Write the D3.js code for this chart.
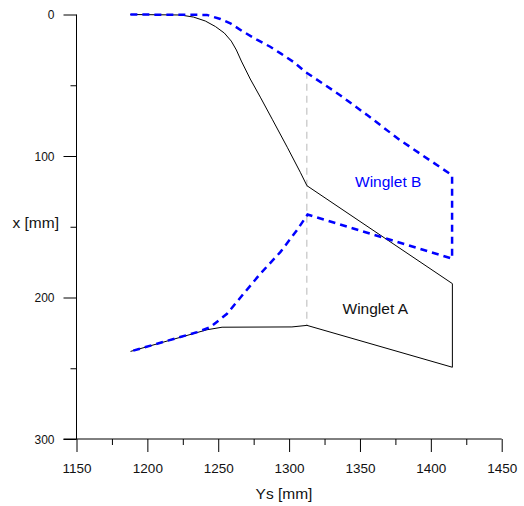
<!DOCTYPE html>
<html>
<head>
<meta charset="utf-8">
<script src="https://cdn.jsdelivr.net/npm/d3@7"></script>
<style>
  html, body { margin: 0; padding: 0; background: #fff; }
  svg { display: block; font-family: "Liberation Sans", Arial, sans-serif; }
</style>
</head>
<body>
<svg id="chart" width="524" height="506"></svg>
<script>
// Winglet outlines: spanwise position Ys [mm] and chordwise position x [mm]
const wingletAYs = [1188, 1223.3, 1232.5, 1240.9, 1248, 1254.3, 1259.2, 1262.8, 1266.3, 1272.6, 1279.7, 1288.1, 1298.7, 1307.9, 1312.6, 1415.2, 1415.2, 1312.6, 1302, 1252.7, 1242.1, 1188.1];
const wingletAX  = [0, 0.35, 1.8, 4.6, 8.5, 13.1, 18.8, 25.1, 32.9, 45.6, 58.4, 74, 93.8, 111.5, 121, 190.2, 249.3, 219.7, 220.8, 221, 222.8, 238.1];

const wingletBYs = [1188, 1242, 1251.5, 1258.5, 1267.7, 1277.6, 1286.7, 1294, 1302.9, 1311.4, 1336, 1355.1, 1378.3, 1406.5, 1415, 1415, 1313, 1305.5, 1293.8, 1279.7, 1267.9, 1256.2, 1244.4, 1235.1, 1188.1];
const wingletBX  = [0, 0.3, 3.2, 6.2, 12.2, 18, 22.8, 27.5, 33.4, 40.5, 57, 71.1, 88.8, 107.9, 113.6, 172.5, 141.4, 152.5, 167.9, 183.2, 197.3, 211.5, 221, 224.5, 238.1];

// Vertical guide at the root of the outboard section
const guideYs = [1312.5, 1312.5];
const guideX  = [40.5, 219.5];

// Axis ticks and labels
const xMajorTicks = [1150, 1200, 1250, 1300, 1350, 1400, 1450];
const xMinorTicks = [1175, 1225, 1275, 1325, 1375, 1425];
const yMajorTicks = [0, 100, 200, 300];
const yMinorTicks = [50, 150, 250];
const xTitle = "Ys [mm]";
const yTitle = "x [mm]";
const labelA = "Winglet A";
const labelB = "Winglet B";

const svg = d3.select("#chart");

const x = d3.scaleLinear().domain([1150, 1450]).range([76.5, 501.7]);
const y = d3.scaleLinear().domain([0, 300]).range([14.5, 439]);

// Axes
const gx = svg.append("g").attr("transform", `translate(0,${y(300)})`)
  .call(d3.axisBottom(x).tickValues(xMajorTicks).tickSize(13).tickPadding(11.5).tickFormat(d3.format("d")));
svg.append("g").attr("transform", `translate(0,${y(300)})`)
  .call(d3.axisBottom(x).tickValues(xMinorTicks).tickSize(6).tickFormat(""))
  .call(g => g.select(".domain").remove());

const gy = svg.append("g").attr("transform", `translate(${x(1150)},0)`)
  .call(d3.axisLeft(y).tickValues(yMajorTicks).tickSize(13).tickPadding(9).tickFormat(d3.format("d")));
svg.append("g").attr("transform", `translate(${x(1150)},0)`)
  .call(d3.axisLeft(y).tickValues(yMinorTicks).tickSize(6).tickFormat(""))
  .call(g => g.select(".domain").remove());

svg.selectAll(".domain").attr("stroke", "#000");
svg.selectAll(".tick line").attr("stroke", "#000");
gx.selectAll(".domain").attr("d", `M${x(1150) - 13},0H${x(1450)}`);
gy.selectAll(".domain").attr("d", `M0,${y(0)}V${y(300)}`);
gx.selectAll(".tick text").attr("font-size", 13.5).attr("fill", "#111")
  .attr("font-family", "'Liberation Sans', Arial, sans-serif");
gy.selectAll(".tick text").attr("font-size", 12).attr("fill", "#111")
  .attr("dy", "0.36em")
  .attr("font-family", "'Liberation Sans', Arial, sans-serif");

// Axis titles
svg.append("text").attr("x", 284).attr("y", 498.5).attr("text-anchor", "middle")
  .attr("font-size", 15.5).attr("fill", "#111").text(xTitle);
svg.append("text").attr("x", 12.5).attr("y", 228).attr("text-anchor", "start")
  .attr("font-size", 15.5).attr("fill", "#111").text(yTitle);

const line = d3.line().x(d => x(d[0])).y(d => y(d[1]));

// Guide line
svg.append("path")
  .datum(d3.zip(guideYs, guideX))
  .attr("d", line)
  .attr("fill", "none").attr("stroke", "#c4c4c4").attr("stroke-width", 1.2)
  .attr("stroke-dasharray", "7,5");

// Winglet A
svg.append("path")
  .datum(d3.zip(wingletAYs, wingletAX))
  .attr("d", line)
  .attr("fill", "none").attr("stroke", "#000").attr("stroke-width", 1)
  .attr("stroke-linejoin", "round");

// Winglet B
svg.append("path")
  .datum(d3.zip(wingletBYs, wingletBX))
  .attr("d", line)
  .attr("fill", "none").attr("stroke", "#0000ff").attr("stroke-width", 2.5)
  .attr("stroke-dasharray", "7,5");

// Labels
svg.append("text").attr("x", 355).attr("y", 186.5)
  .attr("font-size", 15.5).attr("fill", "#0000ff").text(labelB);
svg.append("text").attr("x", 342.5).attr("y", 313.5)
  .attr("font-size", 15.5).attr("fill", "#111").text(labelA);
</script>
</body>
</html>
